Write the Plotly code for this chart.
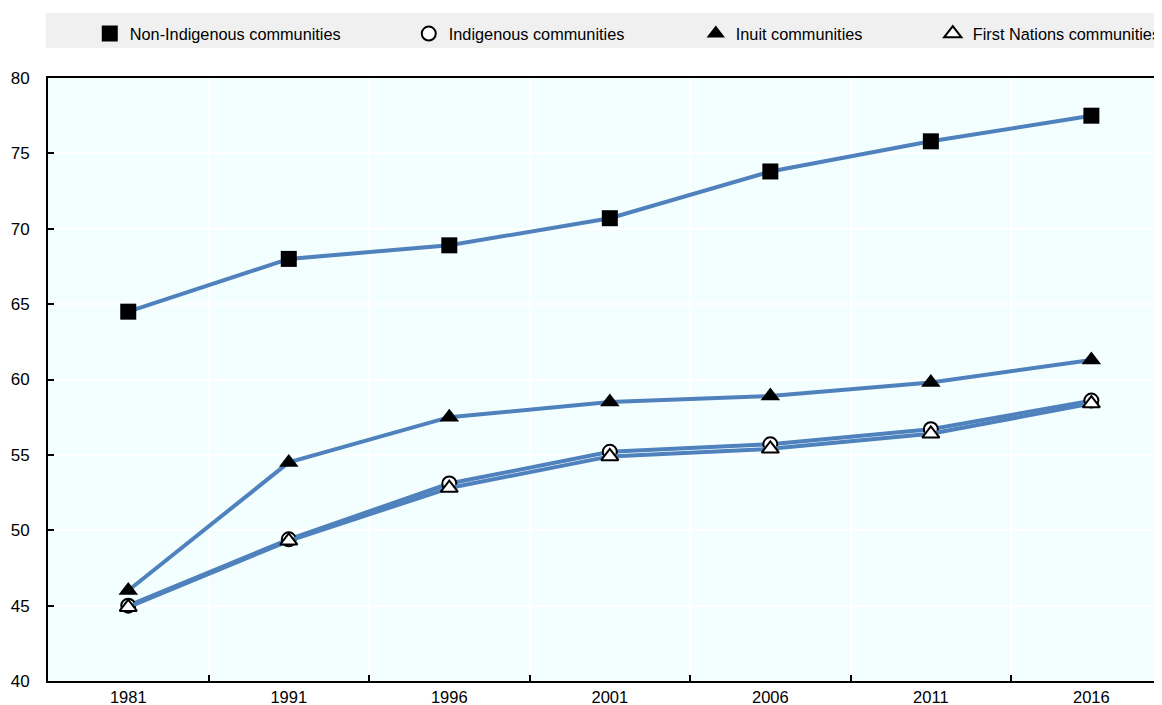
import plotly.graph_objects as go

years = ["1981", "1991", "1996", "2001", "2006", "2011", "2016"]
non_indigenous = [64.5, 68.0, 68.9, 70.7, 73.8, 75.8, 77.5]
indigenous = [45.0, 49.4, 53.1, 55.2, 55.7, 56.7, 58.6]
inuit = [46.0, 54.5, 57.5, 58.5, 58.9, 59.8, 61.3]
first_nations = [44.9, 49.3, 52.8, 54.9, 55.4, 56.4, 58.4]

series_names = ["Non-Indigenous communities", "Indigenous communities",
                "Inuit communities", "First Nations communities"]

LINE = "#4F81BD"
FONT = "Liberation Sans, Arial, sans-serif"

styles = [
    dict(symbol="square", size=16, color="black", line=dict(width=0)),
    dict(symbol="circle", size=14, color="white", line=dict(width=2, color="black")),
    dict(symbol="triangle-up", size=17, color="black", line=dict(width=0)),
    dict(symbol="triangle-up", size=15, color="white", line=dict(width=2, color="black")),
]
legend_widths = [274, 242, 192, 184]

fig = go.Figure()
for name, vals, st in zip(series_names, [non_indigenous, indigenous, inuit, first_nations], styles):
    fig.add_trace(go.Scatter(
        x=years, y=vals, mode="lines+markers", name=name,
        line=dict(color=LINE, width=4), marker=st, showlegend=False,
    ))
for name, st, lw in zip(series_names, styles, legend_widths):
    fig.add_trace(go.Scatter(
        x=[None], y=[None], mode="markers", name=name, marker=st,
        showlegend=True, legendwidth=lw,
    ))

fig.add_shape(type="rect", xref="paper", yref="paper",
              x0=-0.002, x1=1.01, y0=1.0498, y1=1.1078,
              fillcolor="#F0F0F0", line=dict(width=0), layer="below")

fig.update_layout(
    width=1154, height=697,
    margin=dict(l=40, r=0, t=70, b=24, autoexpand=False),
    paper_bgcolor="white", plot_bgcolor="#F3FFFF",
    font=dict(family=FONT, size=16.5, color="black"),
    legend=dict(orientation="h", x=0.0375, xanchor="left", y=1.073, yanchor="middle",
                bgcolor="rgba(0,0,0,0)", font=dict(family=FONT, size=16.3, color="black"),
                traceorder="normal"),
    xaxis=dict(
        type="category", range=[-0.5, 6.44],
        tickson="boundaries", ticks="inside", ticklen=6, tickwidth=1.5, tickcolor="black",
        showgrid=True, gridcolor="white", gridwidth=1.5,
        showline=True, linecolor="black", linewidth=2, mirror=True,
        tickfont=dict(family=FONT, size=16.5), zeroline=False,
        ticklabelstandoff=0, automargin=False,
    ),
    yaxis=dict(
        range=[40, 80], dtick=5, tick0=40,
        ticks="inside", ticklen=6, tickwidth=1.5, tickcolor="black",
        showgrid=True, gridcolor="white", gridwidth=1.5,
        showline=True, linecolor="black", linewidth=2,
        tickfont=dict(family=FONT, size=17), zeroline=False,
        ticklabelstandoff=13, automargin=False,
    ),
)

fig.write_html("out.html")
